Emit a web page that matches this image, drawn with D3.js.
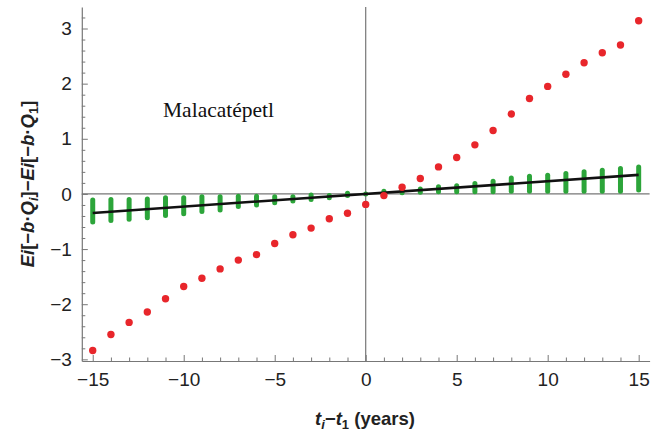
<!DOCTYPE html>
<html>
<head>
<meta charset="utf-8">
<script src="https://cdn.jsdelivr.net/npm/d3@7"></script>
<style>
  body { margin: 0; background: #fff; }
  svg { display: block; }
  .tick text { font-family: "Liberation Sans", Arial, sans-serif; font-size: 19px; fill: #222; }
</style>
</head>
<body>
<div id="chart"></div>
<script>
// time offsets t_i - t_1 (years)
const years = d3.range(-15, 16);

// red points
const redValues = [-2.84, -2.55, -2.33, -2.14, -1.90, -1.68, -1.53, -1.36, -1.20, -1.10,
  -0.90, -0.74, -0.62, -0.45, -0.35, -0.19, -0.03, 0.12, 0.28, 0.49,
  0.66, 0.89, 1.15, 1.45, 1.73, 1.95, 2.17, 2.38, 2.56, 2.70, 3.14];

// green bars (low / high ends)
const greenLow = [-0.51, -0.48, -0.46, -0.43, -0.39, -0.36, -0.32, -0.29, -0.23, -0.20,
  -0.16, -0.13, -0.10, -0.07, -0.03, 0.00, 0.02, 0.02, 0.03, 0.04,
  0.04, 0.04, 0.04, 0.05, 0.05, 0.05, 0.05, 0.05, 0.05, 0.05, 0.07];
const greenHigh = [-0.11, -0.10, -0.10, -0.09, -0.07, -0.07, -0.05, -0.05, -0.04, -0.04,
  -0.05, -0.05, -0.02, -0.03, 0.01, 0.00, 0.05, 0.07, 0.09, 0.13,
  0.15, 0.19, 0.23, 0.29, 0.32, 0.34, 0.37, 0.40, 0.43, 0.46, 0.49];

// black fitted line
const lineX = [-15, 15];
const lineY = [-0.345, 0.345];

const xTicks = [-15, -10, -5, 0, 5, 10, 15];
const yTicks = [-3, -2, -1, 0, 1, 2, 3];

const width = 655, height = 438;
const fmt = d => d < 0 ? "\u2212" + Math.abs(d) : String(d);

const svg = d3.select("#chart").append("svg")
  .attr("width", width)
  .attr("height", height);

const x = d3.scaleLinear().domain([-15.6, 15.6]).range([81.8, 649.6]);
const y = d3.scaleLinear().domain([-3.03, 3.39]).range([361, 7]);

const axisColor = "#777";

// zero axes
svg.append("line")
  .attr("x1", x(-15.6)).attr("x2", x(15.6))
  .attr("y1", y(0)).attr("y2", y(0))
  .attr("stroke", axisColor).attr("stroke-width", 1.2);
svg.append("line")
  .attr("x1", x(0)).attr("x2", x(0))
  .attr("y1", y(-3.03)).attr("y2", y(3.39))
  .attr("stroke", axisColor).attr("stroke-width", 1.2);

// minor ticks
const yMinor = d3.range(-3, 3.39, 0.2).filter(v => Math.abs(v - Math.round(v)) > 0.01);
const xMinor = years.filter(v => v % 5 !== 0);

svg.append("g")
  .attr("transform", `translate(${x(-15.6)},0)`)
  .call(d3.axisLeft(y).tickValues(yMinor).tickSize(-3.5).tickFormat(""))
  .call(g => g.select(".domain").remove())
  .call(g => g.selectAll("line").attr("stroke", axisColor));

svg.append("g")
  .attr("transform", `translate(0,${y(-3.03)})`)
  .call(d3.axisBottom(x).tickValues(xMinor).tickSize(-3.5).tickFormat(""))
  .call(g => g.select(".domain").remove())
  .call(g => g.selectAll("line").attr("stroke", axisColor));

// major axes
svg.append("g")
  .attr("transform", `translate(${x(-15.6)},0)`)
  .call(d3.axisLeft(y).tickValues(yTicks).tickSizeInner(-6).tickSizeOuter(0).tickPadding(10).tickFormat(fmt))
  .call(g => g.select(".domain").attr("stroke", axisColor).attr("stroke-width", 1.2))
  .call(g => g.selectAll(".tick line").attr("stroke", axisColor));

svg.append("g")
  .attr("transform", `translate(0,${y(-3.03)})`)
  .call(d3.axisBottom(x).tickValues(xTicks).tickSizeInner(-6).tickSizeOuter(0).tickPadding(12).tickFormat(fmt))
  .call(g => g.select(".domain").attr("stroke", axisColor).attr("stroke-width", 1.2))
  .call(g => g.selectAll(".tick line").attr("stroke", axisColor));

// green bars
svg.append("g")
  .selectAll("line")
  .data(years)
  .join("line")
  .attr("x1", (d, i) => x(d)).attr("x2", (d, i) => x(d))
  .attr("y1", (d, i) => y(greenLow[i]))
  .attr("y2", (d, i) => y(greenHigh[i]))
  .attr("stroke", "#2ca53a")
  .attr("stroke-width", 5)
  .attr("stroke-linecap", "round");

// black line
svg.append("line")
  .attr("x1", x(lineX[0])).attr("x2", x(lineX[1]))
  .attr("y1", y(lineY[0])).attr("y2", y(lineY[1]))
  .attr("stroke", "#111")
  .attr("stroke-width", 2.6);

// red points
svg.append("g")
  .selectAll("circle")
  .data(years)
  .join("circle")
  .attr("cx", d => x(d))
  .attr("cy", (d, i) => y(redValues[i]))
  .attr("r", 3.7)
  .attr("fill", "#e8262b");

// site label
svg.append("text")
  .attr("x", 163).attr("y", 117)
  .attr("font-family", "'Liberation Serif', 'Times New Roman', serif")
  .attr("font-size", 21.5)
  .attr("fill", "#111")
  .text("Malacatépetl");

// x label
const xl = svg.append("text")
  .attr("x", 365).attr("y", 425)
  .attr("text-anchor", "middle")
  .attr("font-family", "'Liberation Sans', Arial, sans-serif")
  .attr("font-size", 18.5)
  .attr("font-weight", "bold")
  .attr("fill", "#222");
xl.append("tspan").attr("font-style", "italic").text("t");
xl.append("tspan").attr("font-style", "italic").attr("font-size", 13).attr("dy", 4).text("i");
xl.append("tspan").attr("dy", -4).text("\u2212");
xl.append("tspan").attr("font-style", "italic").text("t");
xl.append("tspan").attr("font-size", 13).attr("dy", 4).text("1");
xl.append("tspan").attr("dy", -4).text(" (years)");

// y label
const yl = svg.append("text")
  .attr("transform", "translate(34,184) rotate(-90)")
  .attr("text-anchor", "middle")
  .attr("font-family", "'Liberation Sans', Arial, sans-serif")
  .attr("font-size", 18.5)
  .attr("font-weight", "bold")
  .attr("fill", "#222");
const ylParts = [
  ["Ei", true], ["[\u2212", false], ["b", true], ["\u00b7", false], ["Q", true], ["i", true, "sub"],
  ["]\u2212", false], ["Ei", true], ["[\u2212", false], ["b", true], ["\u00b7", false], ["Q", true], ["1", false, "sub"], ["]", false]
];
let shifted = false;
ylParts.forEach(([t, it, sub]) => {
  const s = yl.append("tspan").text(t);
  if (it) s.attr("font-style", "italic");
  if (sub) { s.attr("font-size", 13).attr("dy", 4); shifted = true; }
  else if (shifted) { s.attr("dy", -4); shifted = false; }
});
</script>
</body>
</html>
